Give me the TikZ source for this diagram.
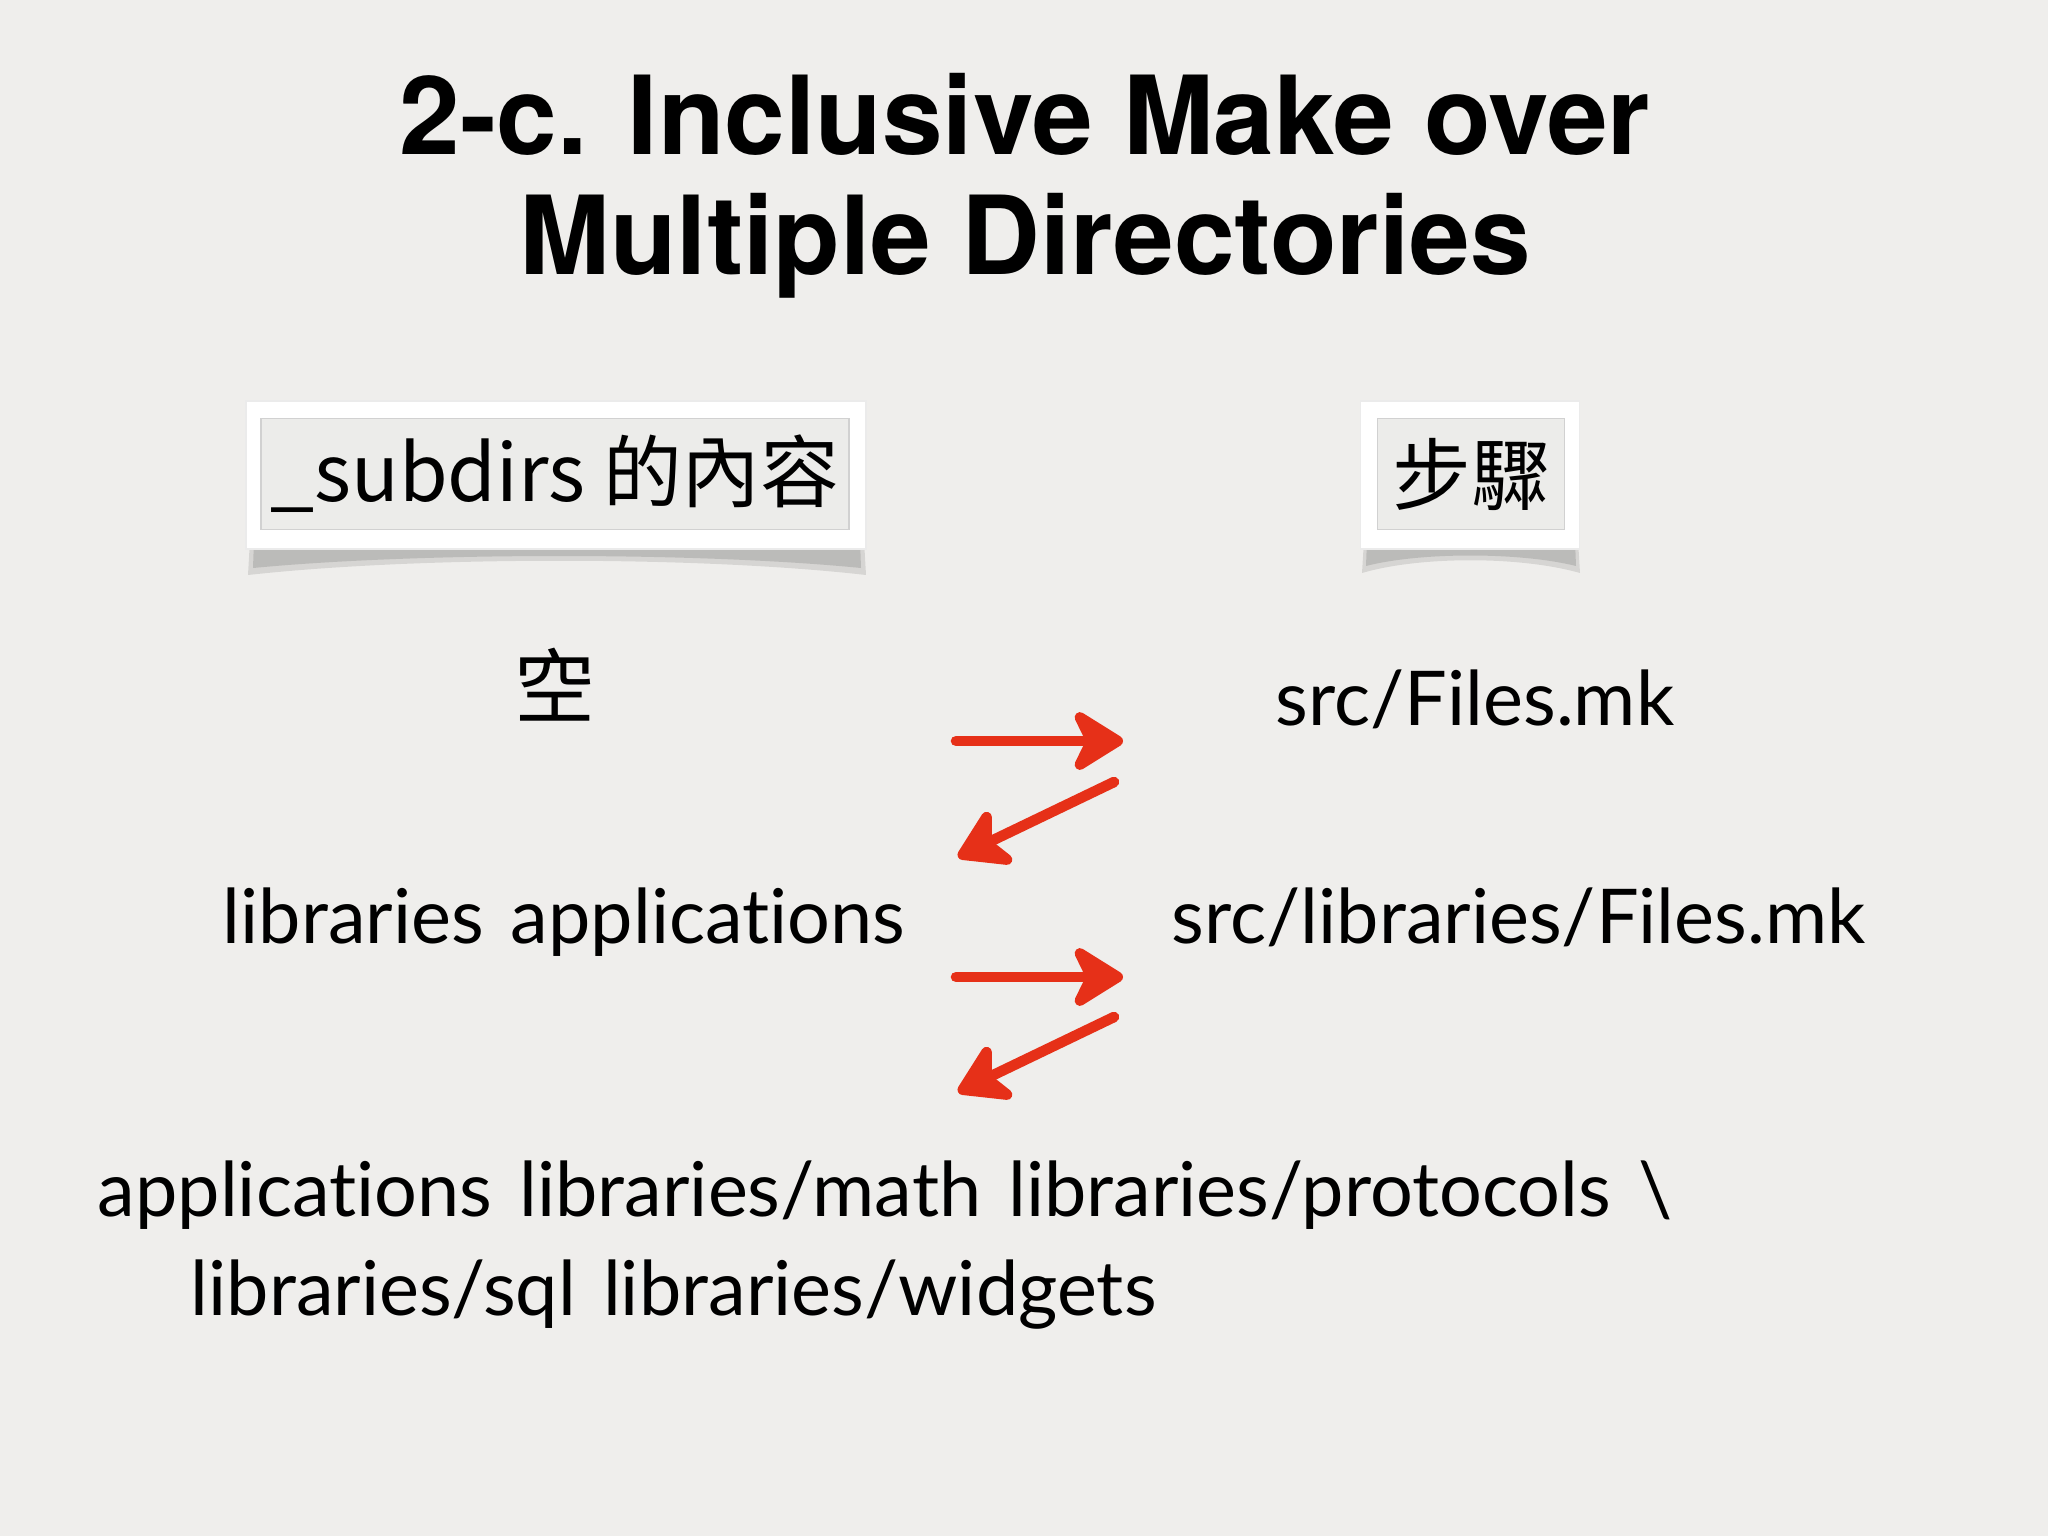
\documentclass[tikz,border=0pt]{standalone}
\usepackage{fontspec}
\setmainfont[Ligatures={NoCommon}, WordSpace=1.4]{Lato}
\newfontfamily\titlefont{TeX Gyre Heros}
\newfontfamily\cjk{Noto Sans CJK TC}
\usetikzlibrary{arrows.meta}
\definecolor{paper}{RGB}{239,238,236}
\definecolor{innergray}{RGB}{236,236,234}
\definecolor{sketchred}{RGB}{230,48,24}
\tikzset{
  titleline/.style={anchor=base, inner sep=0pt, font=\titlefont\bfseries\fontsize{31}{34}\selectfont},
  body/.style={anchor=base west, inner sep=0pt, font=\fontsize{21.5}{26}\selectfont},
  cjkbody/.style={anchor=base, inner sep=0pt, font=\cjk\fontsize{23}{26}\selectfont},
  frame/.style={fill=white, draw=black!8, line width=0.4pt},
  label/.style={fill=innergray, draw=black!18, line width=0.4pt, inner sep=0pt,
    font=\cjk\fontsize{22.4}{26}\selectfont},
  redarrow/.style={draw=sketchred, line width=3pt, line cap=round,
    -{Stealth[length=17pt,width=21pt,inset=5pt,round]}},
}
\begin{document}
\begin{tikzpicture}[x=0.01cm, y=-0.01cm]
    \useasboundingbox (0,0) rectangle (2048,1536);
    \fill[paper] (0,0) rectangle (2048,1536);
    % title
    \node[titleline] (title1) at (1025,154) {2-c. Inclusive Make over};
    \node[titleline] (title2) at (1025,274) {Multiple Directories};
    % header cards with curled shadow
    \fill[black, opacity=0.10] (250,540) -- (864,540) -- (866,575)
        .. controls (700,556) and (420,556) .. (248,575) -- cycle;
    \fill[black, opacity=0.12] (254,540) -- (860,540) -- (861,568)
        .. controls (700,552) and (420,552) .. (253,568) -- cycle;
    \fill[black, opacity=0.10] (1364,540) -- (1578,540) -- (1580,573)
        .. controls (1520,556) and (1420,556) .. (1362,573) -- cycle;
    \fill[black, opacity=0.12] (1367,540) -- (1575,540) -- (1576,566)
        .. controls (1520,552) and (1420,552) .. (1366,566) -- cycle;
    \node[frame, minimum width=6.2cm, minimum height=1.48cm] (subframe) at (556,475) {};
    \node[label, minimum width=5.88cm, minimum height=1.11cm] (subhdr) at (555,474) {\_subdirs 的內容};
    \node[frame, minimum width=2.19cm, minimum height=1.48cm] (stepframe) at (1470,475) {};
    \node[label, minimum width=1.87cm, minimum height=1.11cm] (stephdr) at (1471,474) {步驟};
    % rows
    \node[cjkbody] (empty) at (555,716) {空};
    \node[body] (libapp) at (222,943) {libraries applications};
    \node[body] (all1) at (97,1216) {applications libraries/math libraries/protocols \textbackslash};
    \node[body] (all2) at (190,1315) {libraries/sql libraries/widgets};
    \node[body] (srcfiles) at (1275,725) {src/Files.mk};
    \node[body] (libfiles) at (1171,943) {src/libraries/Files.mk};
    % arrows
    \coordinate (a1s) at (956,741);
    \coordinate (a1e) at (1123,741);
    \coordinate (b1s) at (1114,782);
    \coordinate (b1e) at (958,857);
    \coordinate (a2s) at (956,977);
    \coordinate (a2e) at (1123,977);
    \coordinate (b2s) at (1114,1017);
    \coordinate (b2e) at (958,1092);
    \draw[redarrow] (a1s) -- (a1e);
    \draw[redarrow] (b1s) -- (b1e);
    \draw[redarrow] (a2s) -- (a2e);
    \draw[redarrow] (b2s) -- (b2e);
\end{tikzpicture}
\end{document}
